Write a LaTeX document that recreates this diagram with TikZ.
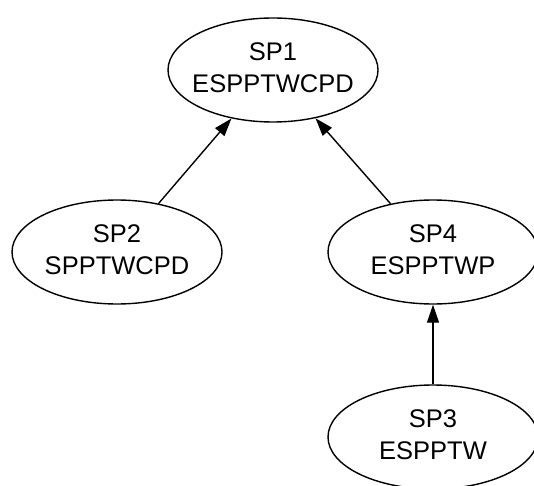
\documentclass[tikz,border=0pt]{standalone}
\usepackage{fontspec}
\setmainfont{Liberation Sans}
\usetikzlibrary{shapes.geometric,arrows.meta}
% two centred lines in a box of zero width, so that the ellipse keeps its set size
\newcommand{\twolines}[2]{\makebox[0pt]{\begin{tabular}{@{}c@{}}#1\\#2\end{tabular}}}
\tikzset{
  ell/.style={ellipse, draw=black, line width=1.4pt, inner sep=0pt,
    minimum width=210pt, minimum height=104pt,
    font=\fontsize{25.5}{32}\selectfont},
  edge/.style={draw=black, line width=1.4pt,
    -{Triangle[length=18pt,width=12pt]}}
}
\begin{document}
\begin{tikzpicture}[x=1pt,y=1pt]
  \useasboundingbox (0,0) rectangle (534,485);
  \node[ell] (sp1) at (273,415) {\twolines{SP1}{ESPPTWCPD}};
  \node[ell] (sp2) at (117,233) {\twolines{SP2}{SPPTWCPD}};
  \node[ell] (sp4) at (433,233) {\twolines{SP4}{ESPPTWP}};
  \node[ell] (sp3) at (433,48) {\twolines{SP3}{ESPPTW}};
  \draw[edge] (sp2) -- (sp1);
  \draw[edge] (sp4) -- (sp1);
  \draw[edge] (sp3) -- (sp4);
\end{tikzpicture}
\end{document}
